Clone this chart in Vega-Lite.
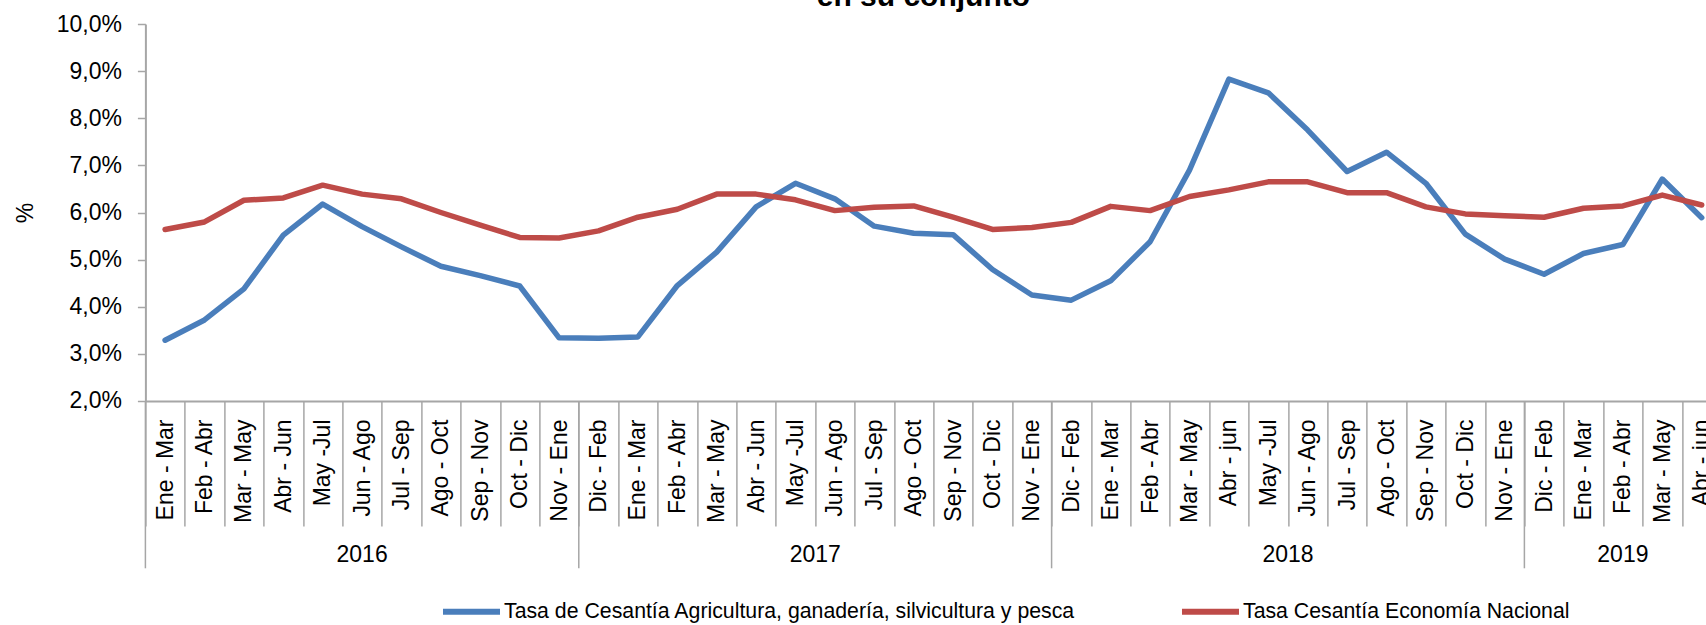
{
  "$schema": "https://vega.github.io/schema/vega-lite/v6.json",
  "width": 1576,
  "height": 377,
  "autosize": {"type": "none"},
  "padding": {"left": 145.4, "top": 24, "right": 0, "bottom": 224},
  "background": "white",
  "title": {"text": "en su conjunto", "fontSize": 30, "fontWeight": "bold", "font": "Liberation Sans", "color": "#000000", "anchor": "middle", "frame": "group", "dx": -10, "baseline": "alphabetic", "offset": -23},
  "config": {"view": {"stroke": null}, "font": "Liberation Sans"},
  "datasets": {
    "series": [
      {"periodo": "2016|Ene - Mar", "Tasa de Cesantía Agricultura, ganadería, silvicultura y pesca": 3.29, "Tasa Cesantía Economía Nacional": 5.64},
      {"periodo": "2016|Feb - Abr", "Tasa de Cesantía Agricultura, ganadería, silvicultura y pesca": 3.72, "Tasa Cesantía Economía Nacional": 5.80},
      {"periodo": "2016|Mar - May", "Tasa de Cesantía Agricultura, ganadería, silvicultura y pesca": 4.38, "Tasa Cesantía Economía Nacional": 6.26},
      {"periodo": "2016|Abr - Jun", "Tasa de Cesantía Agricultura, ganadería, silvicultura y pesca": 5.52, "Tasa Cesantía Economía Nacional": 6.31},
      {"periodo": "2016|May -Jul", "Tasa de Cesantía Agricultura, ganadería, silvicultura y pesca": 6.18, "Tasa Cesantía Economía Nacional": 6.58},
      {"periodo": "2016|Jun - Ago", "Tasa de Cesantía Agricultura, ganadería, silvicultura y pesca": 5.70, "Tasa Cesantía Economía Nacional": 6.39},
      {"periodo": "2016|Jul - Sep", "Tasa de Cesantía Agricultura, ganadería, silvicultura y pesca": 5.27, "Tasa Cesantía Economía Nacional": 6.29},
      {"periodo": "2016|Ago - Oct", "Tasa de Cesantía Agricultura, ganadería, silvicultura y pesca": 4.86, "Tasa Cesantía Economía Nacional": 6.00},
      {"periodo": "2016|Sep - Nov", "Tasa de Cesantía Agricultura, ganadería, silvicultura y pesca": 4.66, "Tasa Cesantía Economía Nacional": 5.73},
      {"periodo": "2016|Oct - Dic", "Tasa de Cesantía Agricultura, ganadería, silvicultura y pesca": 4.44, "Tasa Cesantía Economía Nacional": 5.47},
      {"periodo": "2016|Nov - Ene", "Tasa de Cesantía Agricultura, ganadería, silvicultura y pesca": 3.34, "Tasa Cesantía Economía Nacional": 5.46},
      {"periodo": "2017|Dic - Feb", "Tasa de Cesantía Agricultura, ganadería, silvicultura y pesca": 3.33, "Tasa Cesantía Economía Nacional": 5.61},
      {"periodo": "2017|Ene - Mar", "Tasa de Cesantía Agricultura, ganadería, silvicultura y pesca": 3.36, "Tasa Cesantía Economía Nacional": 5.90},
      {"periodo": "2017|Feb - Abr", "Tasa de Cesantía Agricultura, ganadería, silvicultura y pesca": 4.45, "Tasa Cesantía Economía Nacional": 6.07},
      {"periodo": "2017|Mar - May", "Tasa de Cesantía Agricultura, ganadería, silvicultura y pesca": 5.16, "Tasa Cesantía Economía Nacional": 6.39},
      {"periodo": "2017|Abr - Jun", "Tasa de Cesantía Agricultura, ganadería, silvicultura y pesca": 6.12, "Tasa Cesantía Economía Nacional": 6.39},
      {"periodo": "2017|May -Jul", "Tasa de Cesantía Agricultura, ganadería, silvicultura y pesca": 6.62, "Tasa Cesantía Economía Nacional": 6.27},
      {"periodo": "2017|Jun - Ago", "Tasa de Cesantía Agricultura, ganadería, silvicultura y pesca": 6.29, "Tasa Cesantía Economía Nacional": 6.04},
      {"periodo": "2017|Jul - Sep", "Tasa de Cesantía Agricultura, ganadería, silvicultura y pesca": 5.71, "Tasa Cesantía Economía Nacional": 6.11},
      {"periodo": "2017|Ago - Oct", "Tasa de Cesantía Agricultura, ganadería, silvicultura y pesca": 5.56, "Tasa Cesantía Economía Nacional": 6.14},
      {"periodo": "2017|Sep - Nov", "Tasa de Cesantía Agricultura, ganadería, silvicultura y pesca": 5.53, "Tasa Cesantía Economía Nacional": 5.90},
      {"periodo": "2017|Oct - Dic", "Tasa de Cesantía Agricultura, ganadería, silvicultura y pesca": 4.79, "Tasa Cesantía Economía Nacional": 5.64},
      {"periodo": "2017|Nov - Ene", "Tasa de Cesantía Agricultura, ganadería, silvicultura y pesca": 4.25, "Tasa Cesantía Economía Nacional": 5.68},
      {"periodo": "2018|Dic - Feb", "Tasa de Cesantía Agricultura, ganadería, silvicultura y pesca": 4.14, "Tasa Cesantía Economía Nacional": 5.79},
      {"periodo": "2018|Ene - Mar", "Tasa de Cesantía Agricultura, ganadería, silvicultura y pesca": 4.55, "Tasa Cesantía Economía Nacional": 6.13},
      {"periodo": "2018|Feb - Abr", "Tasa de Cesantía Agricultura, ganadería, silvicultura y pesca": 5.38, "Tasa Cesantía Economía Nacional": 6.04},
      {"periodo": "2018|Mar - May", "Tasa de Cesantía Agricultura, ganadería, silvicultura y pesca": 6.90, "Tasa Cesantía Economía Nacional": 6.34},
      {"periodo": "2018|Abr - jun", "Tasa de Cesantía Agricultura, ganadería, silvicultura y pesca": 8.83, "Tasa Cesantía Economía Nacional": 6.48},
      {"periodo": "2018|May -Jul", "Tasa de Cesantía Agricultura, ganadería, silvicultura y pesca": 8.54, "Tasa Cesantía Economía Nacional": 6.65},
      {"periodo": "2018|Jun - Ago", "Tasa de Cesantía Agricultura, ganadería, silvicultura y pesca": 7.75, "Tasa Cesantía Economía Nacional": 6.65},
      {"periodo": "2018|Jul - Sep", "Tasa de Cesantía Agricultura, ganadería, silvicultura y pesca": 6.87, "Tasa Cesantía Economía Nacional": 6.42},
      {"periodo": "2018|Ago - Oct", "Tasa de Cesantía Agricultura, ganadería, silvicultura y pesca": 7.28, "Tasa Cesantía Economía Nacional": 6.42},
      {"periodo": "2018|Sep - Nov", "Tasa de Cesantía Agricultura, ganadería, silvicultura y pesca": 6.62, "Tasa Cesantía Economía Nacional": 6.12},
      {"periodo": "2018|Oct - Dic", "Tasa de Cesantía Agricultura, ganadería, silvicultura y pesca": 5.54, "Tasa Cesantía Economía Nacional": 5.97},
      {"periodo": "2018|Nov - Ene", "Tasa de Cesantía Agricultura, ganadería, silvicultura y pesca": 5.01, "Tasa Cesantía Economía Nacional": 5.93},
      {"periodo": "2019|Dic - Feb", "Tasa de Cesantía Agricultura, ganadería, silvicultura y pesca": 4.69, "Tasa Cesantía Economía Nacional": 5.90},
      {"periodo": "2019|Ene - Mar", "Tasa de Cesantía Agricultura, ganadería, silvicultura y pesca": 5.13, "Tasa Cesantía Economía Nacional": 6.09},
      {"periodo": "2019|Feb - Abr", "Tasa de Cesantía Agricultura, ganadería, silvicultura y pesca": 5.32, "Tasa Cesantía Economía Nacional": 6.14},
      {"periodo": "2019|Mar - May", "Tasa de Cesantía Agricultura, ganadería, silvicultura y pesca": 6.71, "Tasa Cesantía Economía Nacional": 6.37},
      {"periodo": "2019|Abr - jun", "Tasa de Cesantía Agricultura, ganadería, silvicultura y pesca": 5.89, "Tasa Cesantía Economía Nacional": 6.16}
    ],
    "anios_centro": [
      {"periodo": "2016|Jun - Ago", "anio": "2016"},
      {"periodo": "2019|Feb - Abr", "anio": "2019"}
    ],
    "anios_borde": [
      {"periodo": "2017|Jun - Ago", "anio": "2017"},
      {"periodo": "2018|Jun - Ago", "anio": "2018"}
    ],
    "inicios": [
      {"periodo": "2016|Ene - Mar"},
      {"periodo": "2017|Dic - Feb"},
      {"periodo": "2018|Dic - Feb"},
      {"periodo": "2019|Dic - Feb"}
    ]
  },
  "layer": [
    {
      "data": {"name": "inicios"},
      "mark": {"type": "rule", "color": "#A6A6A6", "strokeWidth": 1.5},
      "encoding": {
        "x": {"field": "periodo", "type": "nominal", "bandPosition": 0},
        "y": {"datum": 2},
        "y2": {"datum": -1.55}
      }
    },
    {
      "data": {"name": "series"},
      "transform": [{"fold": ["Tasa de Cesantía Agricultura, ganadería, silvicultura y pesca", "Tasa Cesantía Economía Nacional"], "as": ["serie", "valor"]}],
      "mark": {"type": "line", "strokeWidth": 5.5, "strokeJoin": "round", "strokeCap": "round"},
      "encoding": {
        "x": {
          "field": "periodo", "type": "nominal", "bandPosition": 0.5,
          "scale": {"type": "band", "paddingInner": 0, "paddingOuter": 0, "domain": [
            "2016|Ene - Mar", "2016|Feb - Abr", "2016|Mar - May", "2016|Abr - Jun", "2016|May -Jul", "2016|Jun - Ago", "2016|Jul - Sep", "2016|Ago - Oct", "2016|Sep - Nov", "2016|Oct - Dic", "2016|Nov - Ene",
            "2017|Dic - Feb", "2017|Ene - Mar", "2017|Feb - Abr", "2017|Mar - May", "2017|Abr - Jun", "2017|May -Jul", "2017|Jun - Ago", "2017|Jul - Sep", "2017|Ago - Oct", "2017|Sep - Nov", "2017|Oct - Dic", "2017|Nov - Ene",
            "2018|Dic - Feb", "2018|Ene - Mar", "2018|Feb - Abr", "2018|Mar - May", "2018|Abr - jun", "2018|May -Jul", "2018|Jun - Ago", "2018|Jul - Sep", "2018|Ago - Oct", "2018|Sep - Nov", "2018|Oct - Dic", "2018|Nov - Ene",
            "2019|Dic - Feb", "2019|Ene - Mar", "2019|Feb - Abr", "2019|Mar - May", "2019|Abr - jun"
          ]},
          "axis": {
            "title": null, "labelAngle": -90, "labelExpr": "split(datum.value, '|')[1]",
            "labelFontSize": 23, "labelFont": "Liberation Sans", "labelColor": "#000000",
            "labelAlign": "right", "labelBaseline": "middle", "labelOverlap": false, "labelLimit": 300,
            "tickBand": "extent", "tickSize": 125, "tickColor": "#A6A6A6", "tickWidth": 1.5,
            "domainColor": "#A6A6A6", "domainWidth": 2, "labelPadding": -107, "grid": false
          }
        },
        "y": {
          "field": "valor", "type": "quantitative",
          "scale": {"domain": [2, 10], "nice": false, "zero": false},
          "axis": {
            "title": "%", "titleFontSize": 23, "titleFontWeight": "normal", "titleFont": "Liberation Sans", "titleColor": "#000000", "titlePadding": 19,
            "values": [2, 3, 4, 5, 6, 7, 8, 9, 10],
            "labelExpr": "replace(format(datum.value, '.1f'), '.', ',') + '%'",
            "labelFontSize": 23, "labelFont": "Liberation Sans", "labelColor": "#000000", "labelPadding": 16,
            "tickSize": 8, "tickColor": "#A6A6A6", "tickWidth": 1.5,
            "domainColor": "#A6A6A6", "domainWidth": 2, "grid": false
          }
        },
        "color": {
          "field": "serie", "type": "nominal",
          "scale": {"domain": ["Tasa de Cesantía Agricultura, ganadería, silvicultura y pesca", "Tasa Cesantía Economía Nacional"], "range": ["#4A7EBB", "#BE4B48"]},
          "legend": {
            "orient": "none", "legendX": 294.6, "legendY": 556, "direction": "horizontal", "title": null,
            "symbolType": "stroke", "symbolStrokeWidth": 6, "symbolSize": 3249,
            "labelFontSize": 21.3, "labelFont": "Liberation Sans", "labelColor": "#000000", "labelLimit": 1000,
            "labelOffset": 1, "columnPadding": 94, "padding": 0, "rowPadding": 0
          }
        }
      }
    },
    {
      "data": {"name": "anios_centro"},
      "mark": {"type": "text", "fontSize": 23, "font": "Liberation Sans", "color": "#000000", "baseline": "middle", "dy": 154},
      "encoding": {
        "x": {"field": "periodo", "type": "nominal", "bandPosition": 0.5},
        "y": {"datum": 2},
        "text": {"field": "anio"}
      }
    },
    {
      "data": {"name": "anios_borde"},
      "mark": {"type": "text", "fontSize": 23, "font": "Liberation Sans", "color": "#000000", "baseline": "middle", "dy": 154},
      "encoding": {
        "x": {"field": "periodo", "type": "nominal", "bandPosition": 0},
        "y": {"datum": 2},
        "text": {"field": "anio"}
      }
    }
  ]
}
